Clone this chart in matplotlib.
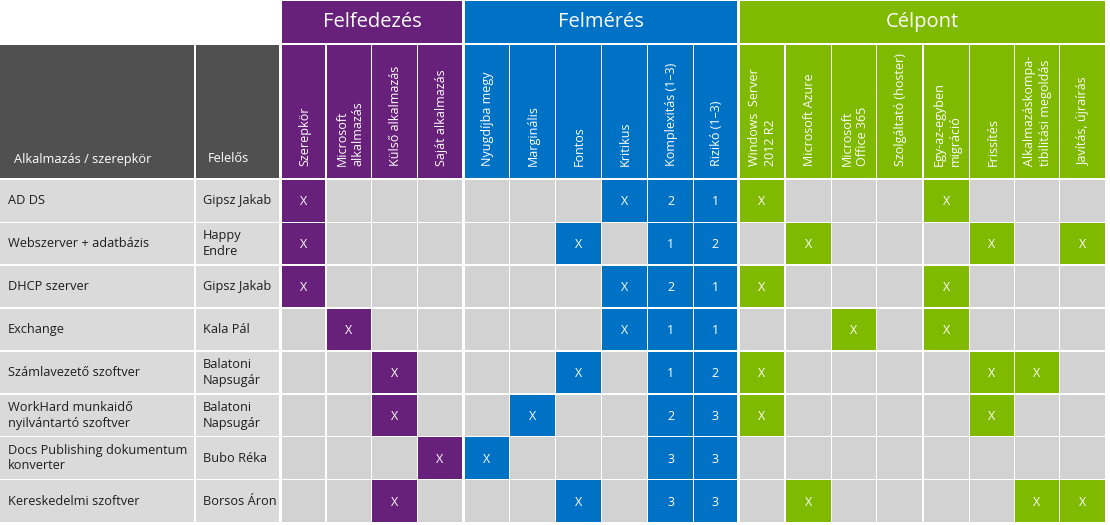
import matplotlib.pyplot as plt
from matplotlib.patches import Rectangle

plt.rcParams['font.family'] = ['Open Sans', 'DejaVu Sans']

# ------------------ DATA ------------------

groups = ["Felfedezés", "Felmérés", "Célpont"]
group_colors = ["#68217A", "#0072C6", "#7FBA00"]
group_sizes = [4, 6, 8]

columns = [
    "Szerepkör", "Microsoft\nalkalmazás", "Külső alkalmazás", "Saját alkalmazás",
    "Nyugdíjba megy", "Marginális", "Fontos", "Kritikus",
    "Komplexitás (1–3)", "Rizikó (1–3)",
    "Windows  Server\n2012 R2", "Microsoft Azure", "Microsoft\nOffice 365",
    "Szolgáltató (hoster)", "Egy-az-egyben\nmigráció", "Frissítés",
    "Alkalmazáskompa-\ntibilitási megoldás", "Javítás, újraírás",
]

apps = [
    "AD DS", "Webszerver + adatbázis", "DHCP szerver", "Exchange",
    "Számlavezető szoftver", "WorkHard munkaidő\nnyilvántartó szoftver",
    "Docs Publishing dokumentum\nkonverter", "Kereskedelmi szoftver",
]
owners = [
    "Gipsz Jakab", "Happy\nEndre", "Gipsz Jakab", "Kala Pál",
    "Balatoni\nNapsugár", "Balatoni\nNapsugár", "Bubo Réka", "Borsos Áron",
]

discovery = [
    ["X", "", "", ""],
    ["X", "", "", ""],
    ["X", "", "", ""],
    ["", "X", "", ""],
    ["", "", "X", ""],
    ["", "", "X", ""],
    ["", "", "", "X"],
    ["", "", "X", ""],
]
assessment = [
    ["", "", "", "X"],
    ["", "", "X", ""],
    ["", "", "", "X"],
    ["", "", "", "X"],
    ["", "", "X", ""],
    ["", "X", "", ""],
    ["X", "", "", ""],
    ["", "", "X", ""],
]
complexity = [2, 1, 2, 1, 1, 2, 3, 3]
risk = [1, 2, 1, 1, 2, 3, 3, 3]
target = [
    ["X", "", "", "", "X", "", "", ""],
    ["", "X", "", "", "", "X", "", "X"],
    ["X", "", "", "", "X", "", "", ""],
    ["", "", "X", "", "X", "", "", ""],
    ["X", "", "", "", "", "X", "X", ""],
    ["X", "", "", "", "", "X", "", ""],
    ["", "", "", "", "", "", "", ""],
    ["", "X", "", "", "", "", "X", "X"],
]

# ------------------ LAYOUT ------------------

col_left = [282, 327, 372, 418, 465, 510, 556, 602, 648, 694,
            740, 786, 832, 877, 924, 970, 1015, 1060]
col_right = [325, 371, 417, 462, 509, 555, 601, 647, 693, 737,
             784, 831, 876, 922, 969, 1014, 1059, 1105]
row_top0, row_pitch, row_h = 180, 42.9, 41.5
empty_color = "#D2D2D2"
label_bg = "#DADADA"
head_gray = "#505050"
text_dark = "#1E1E1E"
fs = 9.2
fs_head = 9.0

fig = plt.figure(figsize=(11.1, 5.25), dpi=100)
ax = fig.add_axes([0, 0, 1, 1])
ax.set_xlim(0, 1110)
ax.set_ylim(525, 0)
ax.axis("off")


def box(x0, x1, y0, y1, color):
    ax.add_patch(Rectangle((x0, y0), x1 - x0, y1 - y0, facecolor=color,
                           edgecolor="none"))


# group headers and column headers
col_color = []
start = 0
for g, c, n in zip(groups, group_colors, group_sizes):
    x0, x1 = col_left[start], col_right[start + n - 1]
    box(x0, x1, 1, 43, c)
    ax.text((x0 + x1) / 2, 22, g, color="white", fontsize=14.5,
            ha="center", va="center")
    col_color += [c] * n
    start += n

box(0, 194, 45, 178, head_gray)
box(196, 279, 45, 178, head_gray)
ax.text(14, 159, "Alkalmazás / szerepkör", color="white", fontsize=fs,
        ha="left", va="center")
ax.text(208, 159, "Felelős", color="white", fontsize=fs,
        ha="left", va="center")

for j, name in enumerate(columns):
    x0, x1 = col_left[j], col_right[j]
    box(x0, x1, 45, 178, col_color[j])
    ax.text((x0 + x1) / 2 + 1, 166, name, color="white", fontsize=fs_head,
            rotation=90, ha="center", va="bottom", multialignment="left",
            linespacing=1.3)

# data rows
for i in range(len(apps)):
    y0 = row_top0 + i * row_pitch
    y1 = y0 + row_h
    yc = (y0 + y1) / 2
    box(0, 194, y0, y1, label_bg)
    box(196, 279, y0, y1, label_bg)
    ax.text(8, yc, apps[i], color=text_dark, fontsize=fs, ha="left",
            va="center", linespacing=1.25)
    ax.text(203, yc, owners[i], color=text_dark, fontsize=fs, ha="left",
            va="center", linespacing=1.25)

    cells = (discovery[i] + assessment[i]
             + [str(complexity[i]), str(risk[i])] + target[i])
    for j, val in enumerate(cells):
        x0, x1 = col_left[j], col_right[j]
        box(x0, x1, y0, y1, col_color[j] if val else empty_color)
        if val:
            ax.text((x0 + x1) / 2, yc + 1, val, color="white", fontsize=9,
                    ha="center", va="center")

fig.savefig("out.png", dpi=100, facecolor="white")
